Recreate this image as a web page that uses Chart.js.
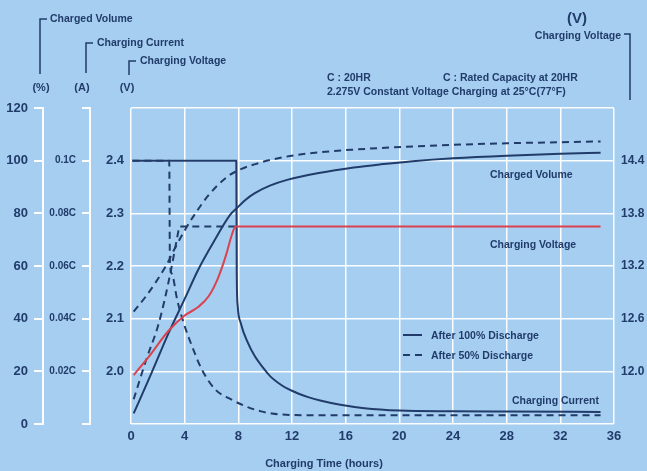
<!DOCTYPE html>
<html>
<head>
<meta charset="utf-8">
<title>Charging characteristics</title>
<script src="https://cdn.jsdelivr.net/npm/chart.js@4/dist/chart.umd.min.js"></script>
<style>
    html, body { margin: 0; padding: 0; background: #a6cef0; }
    #wrap { width: 647px; height: 471px; position: relative; }
</style>
</head>
<body>
<div id="wrap"><canvas id="chart"></canvas></div>
<script>
const INK = '#213c6a';
const RED = '#d8434f';
const GRID = 'rgba(255,255,255,0.95)';
const FONT = '"Liberation Sans", Arial, sans-serif';

// x axis (hours)
const hourTicks = [0, 4, 8, 12, 16, 20, 24, 28, 32, 36];

// charged volume (%)
const volHours100 = [0.2, 1.5, 2.8, 4, 5, 6.2, 7.4, 7.9, 8.5, 9.2, 10.4, 11.7, 14, 16.6, 18.6, 21, 24, 28, 32, 35];
const volume100   = [4, 19, 34.5, 47.5, 58.5, 69.5, 79.5, 82, 85, 87.6, 90.6, 92.8, 95.3, 97.4, 98.6, 99.8, 100.9, 101.9, 102.6, 103];
const volHours50  = [0.2, 1.1, 1.8, 2.6, 3.3, 4.0, 4.8, 5.8, 7.2, 8.2, 9.2, 10.5, 12.4, 14.5, 16.6, 18.6, 21, 24, 28, 32, 35];
const volume50    = [42.7, 48.4, 53.5, 60, 67, 73.5, 80, 87, 94, 96.8, 98.6, 100.4, 102.2, 103.4, 104.2, 104.8, 105.4, 106, 106.6, 107, 107.3];

// charging voltage (V per cell)
const voltHours100 = [0.2, 1.3, 2.8, 4.0, 5.0, 5.8, 6.5, 7.1, 7.5, 7.8, 35];
const voltage100   = [1.993, 2.027, 2.077, 2.106, 2.122, 2.143, 2.178, 2.222, 2.258, 2.275, 2.275];
const voltHours50  = [0.2, 1.2, 2.0, 2.5, 3.0, 3.5, 3.6, 8];
const voltage50    = [1.947, 2.027, 2.085, 2.135, 2.195, 2.262, 2.275, 2.275];

// charging current (C)
const curHours100 = [0.1, 7.85, 7.88, 7.95, 8.2, 8.7, 9.2, 9.9, 10.4, 11.2, 11.7, 12.5, 13.2, 14.1, 15.5, 17.4, 20, 24, 28, 35];
const current100  = [0.1, 0.1, 0.058, 0.045, 0.038, 0.031, 0.026, 0.021, 0.018, 0.0148, 0.0133, 0.0115, 0.0102, 0.0089, 0.0074, 0.006, 0.0051, 0.0048, 0.0047, 0.0046];
const curHours50  = [0.1, 2.85, 2.9, 3.05, 3.45, 3.95, 4.55, 5.3, 6.3, 7.4, 8.7, 9.7, 10.5, 12, 16, 24, 35];
const current50   = [0.1, 0.1, 0.062, 0.057, 0.047, 0.038, 0.0295, 0.0205, 0.013, 0.0095, 0.0064, 0.0048, 0.004, 0.0034, 0.0033, 0.0033, 0.0033];

// tick labels of the side axes
const volumeTicks = [0, 20, 40, 60, 80, 100, 120];
const currentLabels = ['0.02C', '0.04C', '0.06C', '0.08C', '0.1C'];
const batteryVoltLabels = ['12.0', '12.6', '13.2', '13.8', '14.4'];

function pts(hours, vals) {
    return hours.map((h, i) => ({x: h, y: vals[i]}));
}

function line(data, axis, color, dashed) {
    return {
        data: data,
        yAxisID: axis,
        borderColor: color,
        borderWidth: 2,
        borderDash: dashed ? [7, 5] : [],
        pointRadius: 0,
        fill: false,
        cubicInterpolationMode: 'monotone'
    };
}

function bracket(ctx, x, yTop, yBot, capTo) {
    ctx.beginPath();
    ctx.moveTo(capTo, yTop);
    ctx.lineTo(x, yTop);
    ctx.lineTo(x, yBot);
    ctx.stroke();
}

const textPlugin = {
    id: 'texts',
    afterDraw(chart) {
        const ctx = chart.ctx;
        ctx.save();
        ctx.fillStyle = INK;
        ctx.strokeStyle = INK;
        ctx.lineWidth = 1.5;
        ctx.textBaseline = 'middle';

        // axis headers, top left
        ctx.font = 'bold 10.5px ' + FONT;
        ctx.textAlign = 'left';
        bracket(ctx, 40, 19, 74, 47);
        ctx.fillText('Charged Volume', 50, 19);
        bracket(ctx, 86, 43, 73, 93);
        ctx.fillText('Charging Current', 97, 43);
        bracket(ctx, 129, 61, 75, 136);
        ctx.fillText('Charging Voltage', 140, 61);
        ctx.font = 'bold 11px ' + FONT;
        ctx.textAlign = 'center';
        ctx.fillText('(%)', 41, 88);
        ctx.fillText('(A)', 82, 88);
        ctx.fillText('(V)', 127, 88);

        // axis header, top right
        ctx.font = 'bold 15px ' + FONT;
        ctx.fillText('(V)', 577, 19);
        ctx.font = 'bold 10.5px ' + FONT;
        ctx.textAlign = 'right';
        ctx.fillText('Charging Voltage', 621, 36);
        bracket(ctx, 630, 34, 100, 624);

        // notes
        ctx.textAlign = 'left';
        ctx.fillText('C : 20HR', 327, 78);
        ctx.fillText('C : Rated Capacity at 20HR', 443, 78);
        ctx.fillText('2.275V Constant Voltage Charging at 25\u00b0C(77\u00b0F)', 327, 92);

        // curve names
        ctx.fillText('Charged Volume', 490, 175);
        ctx.fillText('Charging Voltage', 490, 245);
        ctx.fillText('Charging Current', 512, 401);

        // legend
        ctx.lineWidth = 2;
        ctx.beginPath();
        ctx.moveTo(403, 335);
        ctx.lineTo(422, 335);
        ctx.stroke();
        ctx.setLineDash([7, 5]);
        ctx.beginPath();
        ctx.moveTo(403, 355);
        ctx.lineTo(423, 355);
        ctx.stroke();
        ctx.setLineDash([]);
        ctx.fillText('After 100% Discharge', 431, 336);
        ctx.fillText('After 50% Discharge', 431, 356);

        // x title
        ctx.font = 'bold 11px ' + FONT;
        ctx.textAlign = 'center';
        ctx.fillText('Charging Time (hours)', 324, 464);
        ctx.restore();
    }
};

const tickFont = size => ({family: FONT, size: size, weight: 'bold'});

new Chart(document.getElementById('chart'), {
    type: 'line',
    data: {
        datasets: [
            line(pts(voltHours100, voltage100), 'volt', RED, false),
            line(pts(curHours100, current100), 'cur', INK, false),
            line(pts(volHours100, volume100), 'pct', INK, false),
            line(pts(volHours50, volume50), 'pct', INK, true),
            line(pts(curHours50, current50), 'cur', INK, true),
            line(pts(voltHours50, voltage50), 'volt', INK, true)
        ]
    },
    options: {
        responsive: true,
        maintainAspectRatio: false,
        animation: false,
        layout: {padding: {top: 108, left: 0, right: 0, bottom: 0}},
        plugins: {legend: {display: false}, tooltip: {enabled: false}},
        scales: {
            x: {
                type: 'linear',
                min: hourTicks[0],
                max: hourTicks[hourTicks.length - 1],
                afterBuildTicks: s => { s.ticks = hourTicks.map(v => ({value: v})); },
                ticks: {color: INK, font: tickFont(13), padding: 5},
                grid: {color: GRID, lineWidth: 1.5, drawTicks: false},
                border: {display: false},
                afterFit: s => { s.height = 47; }
            },
            pct: {
                position: 'left',
                weight: 3,
                min: 0,
                max: 120,
                afterBuildTicks: s => { s.ticks = volumeTicks.map(v => ({value: v})); },
                ticks: {color: INK, font: tickFont(13), padding: 6},
                grid: {drawOnChartArea: false, color: GRID, lineWidth: 2, tickLength: 9},
                border: {display: true, color: GRID, width: 2},
                afterFit: s => { s.width = 43; }
            },
            cur: {
                position: 'left',
                weight: 2,
                min: 0,
                max: 0.12,
                ticks: {
                    stepSize: 0.02,
                    color: INK,
                    font: tickFont(10),
                    padding: 6,
                    callback: v => currentLabels[Math.round(v * 50) - 1] || ''
                },
                grid: {drawOnChartArea: false, color: GRID, lineWidth: 2, tickLength: 8},
                border: {display: true, color: GRID, width: 2},
                afterFit: s => { s.width = 47; }
            },
            volt: {
                position: 'left',
                weight: 1,
                min: 1.9,
                max: 2.5,
                ticks: {
                    stepSize: 0.1,
                    color: INK,
                    font: tickFont(13),
                    padding: 7,
                    callback: v => {
                        const n = Math.round(v * 10);
                        return n >= 20 && n <= 24 ? (n / 10).toFixed(1) : '';
                    }
                },
                grid: {color: GRID, lineWidth: 1.5, drawTicks: false},
                border: {display: false},
                afterFit: s => { s.width = 41; }
            },
            battery: {
                position: 'right',
                min: 11.4,
                max: 15.0,
                ticks: {
                    stepSize: 0.6,
                    color: INK,
                    font: tickFont(12),
                    padding: 7,
                    callback: v => batteryVoltLabels[Math.round((v - 11.4) / 0.6) - 1] || ''
                },
                grid: {drawOnChartArea: false, drawTicks: false},
                border: {display: false},
                afterFit: s => { s.width = 33; }
            }
        }
    },
    plugins: [textPlugin]
});
</script>
</body>
</html>
